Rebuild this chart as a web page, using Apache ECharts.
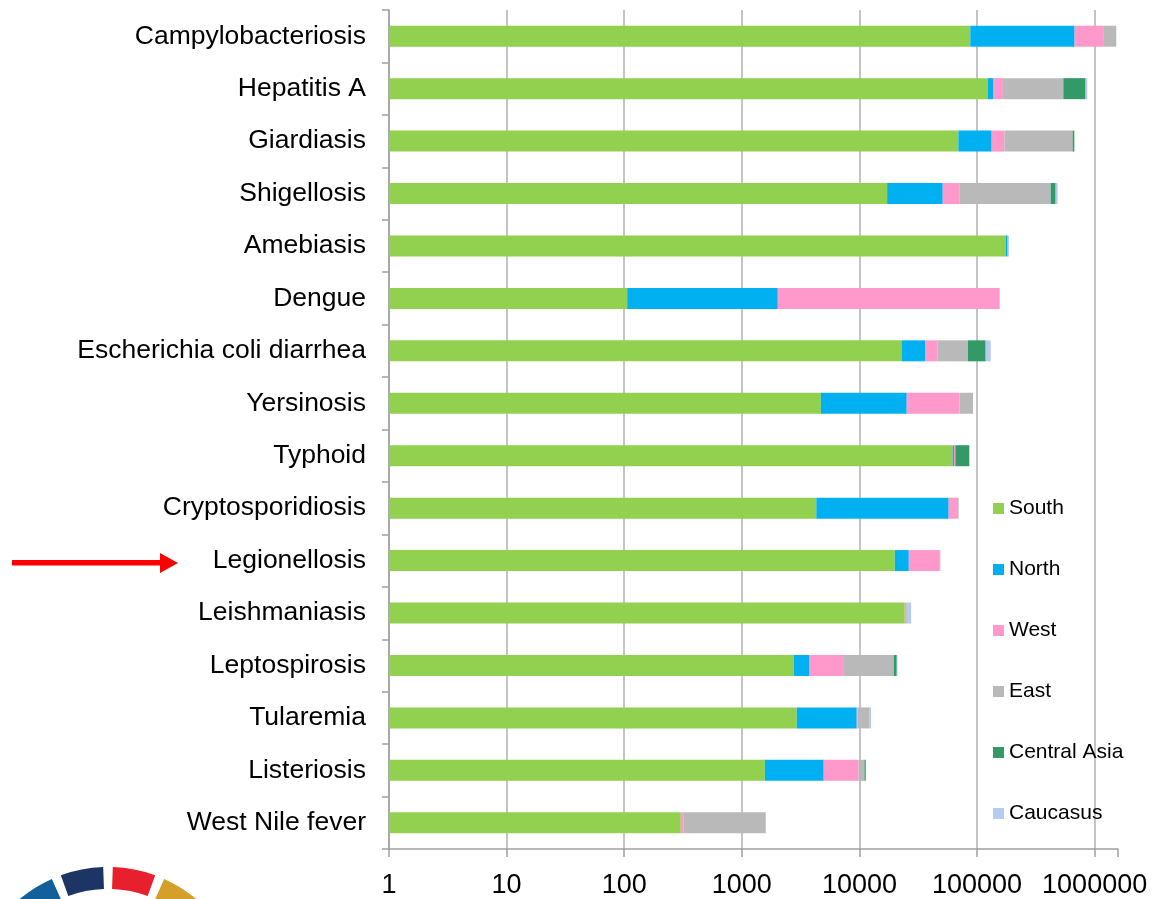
<!DOCTYPE html>
<html>
<head>
<meta charset="utf-8">
<script src="https://cdn.jsdelivr.net/npm/echarts@6/dist/echarts.min.js"></script>
<style>
html, body { margin: 0; padding: 0; background: #fff; }
#chart { width: 1153px; height: 899px; }
</style>
</head>
<body>
<div id="chart"></div>
<script>
// diseases, top to bottom
var diseases = ['Campylobacteriosis', 'Hepatitis A', 'Giardiasis', 'Shigellosis', 'Amebiasis', 'Dengue',
    'Escherichia coli diarrhea', 'Yersinosis', 'Typhoid', 'Cryptosporidiosis', 'Legionellosis',
    'Leishmaniasis', 'Leptospirosis', 'Tularemia', 'Listeriosis', 'West Nile fever'];
var regions = ['South', 'North', 'West', 'East', 'Central Asia', 'Caucasus'];

// values (segment sizes, stacked)
var south = [87700, 123000, 69400, 17200, 176000, 106, 22800, 4700, 62100, 4300, 20000, 24300, 2770, 2930, 1570, 303];
var north = [588000, 15300, 63800, 33900, 6000, 1917, 13300, 20550, 1600, 53100, 6300, 0, 1000, 6560, 3400, 0];
var west = [523000, 27700, 37600, 20200, 0, 153800, 9900, 45550, 1700, 11500, 21600, 600, 3500, 190, 4840, 15];
var east = [329000, 375700, 479300, 351300, 0, 0, 37800, 21600, 0, 900, 900, 400, 12300, 2560, 1220, 1280];
var centralAsia = [0, 296000, 21900, 43400, 0, 0, 34600, 0, 20600, 0, 0, 0, 1200, 0, 290, 0];
var caucasus = [0, 28600, 0, 18700, 4700, 0, 12200, 0, 0, 0, 0, 2200, 280, 320, 0, 0];

var tickValues = [1, 10, 100, 1000, 10000, 100000, 1000000];

var regionData = [south, north, west, east, centralAsia, caucasus];
var colors = ['#92d050', '#00b0f0', '#ff99cc', '#b9b9b9', '#339966', '#b7cbf2'];

var myChart = echarts.init(document.getElementById('chart'));
var option = {
    animation: false,
    textStyle: { fontFamily: 'Liberation Sans, Arial, sans-serif' },
    grid: { left: 389, right: 35, top: 10, bottom: 50, outerBoundsMode: 'none' },
    legend: {
        orient: 'vertical',
        left: 988,
        top: 493,
        icon: 'rect',
        itemWidth: 11,
        itemHeight: 11,
        itemGap: 40,
        selectedMode: false,
        data: regions,
        textStyle: { fontSize: 21, lineHeight: 21, color: '#000' }
    },
    xAxis: {
        type: 'log',
        logBase: 10,
        min: 1,
        max: 1580000,
        axisLine: { show: true, lineStyle: { color: '#a0a0a0', width: 1.5 } },
        axisTick: { show: true, length: 8, lineStyle: { color: '#a0a0a0', width: 1.5 } },
        axisLabel: {
            fontSize: 27,
            color: '#000',
            margin: 23,
            formatter: function (v) {
                for (var i = 0; i < tickValues.length; i++) {
                    if (Math.abs(v - tickValues[i]) < tickValues[i] * 1e-6) return String(tickValues[i]);
                }
                return '';
            }
        },
        splitLine: { show: true, showMaxLine: false, lineStyle: { color: '#c4c4c4', width: 2 } }
    },
    yAxis: {
        type: 'category',
        inverse: true,
        data: diseases,
        axisLine: { show: true, lineStyle: { color: '#a0a0a0', width: 1.5 } },
        axisTick: { show: true, length: 7, lineStyle: { color: '#a0a0a0', width: 1.5 } },
        axisLabel: { fontSize: 26.5, color: '#000', margin: 23 },
        splitLine: { show: false }
    },
    series: regions.map(function (name, i) {
        return {
            name: name,
            type: 'bar',
            stack: 'total',
            barWidth: 21,
            data: regionData[i],
            itemStyle: { color: colors[i] }
        };
    }),
    graphic: [
        // red arrow pointing at Legionellosis
        {
            type: 'polygon',
            shape: { points: [[12, 560], [160, 560], [160, 553], [178, 563], [160, 573], [160, 565.5], [12, 565.5]] },
            style: { fill: '#ff0000' }
        },
        // logo arcs, bottom left
        { type: 'sector', shape: { cx: 108, cy: 1005, r: 138, r0: 116, startAngle: -132 * Math.PI / 180, endAngle: -114 * Math.PI / 180 }, style: { fill: '#11609a' } },
        { type: 'sector', shape: { cx: 108, cy: 1005, r: 138, r0: 116, startAngle: -110 * Math.PI / 180, endAngle: -92 * Math.PI / 180 }, style: { fill: '#1c3564' } },
        { type: 'sector', shape: { cx: 108, cy: 1005, r: 138, r0: 116, startAngle: -88 * Math.PI / 180, endAngle: -70 * Math.PI / 180 }, style: { fill: '#e8202e' } },
        { type: 'sector', shape: { cx: 108, cy: 1005, r: 138, r0: 116, startAngle: -66 * Math.PI / 180, endAngle: -48 * Math.PI / 180 }, style: { fill: '#d4a02a' } }
    ]
};
option && myChart.setOption(option);
</script>
</body>
</html>
